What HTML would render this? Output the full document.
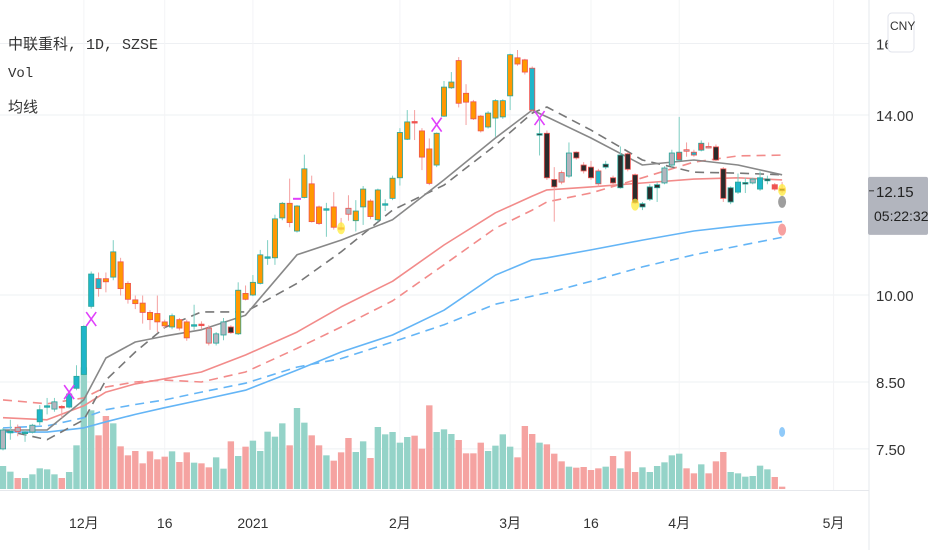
<!DOCTYPE html>
<html><head><meta charset="utf-8">
<style>
html,body{margin:0;padding:0;background:#fff;}
#wrap{position:relative;width:932px;height:550px;overflow:hidden;font-family:"Liberation Sans","Noto Sans CJK SC",sans-serif;}
svg{position:absolute;left:0;top:0;}
.lg{position:absolute;left:8px;font-size:15px;color:#333;font-family:"Liberation Mono","Noto Sans CJK SC",monospace;}
</style></head><body>
<div id="wrap">
<svg id="chart" width="932" height="550"></svg>
<div class="lg" style="top:33px">中联重科, 1D, SZSE</div>
<div class="lg" style="top:66px;font-size:14px">Vol</div>
<div class="lg" style="top:96px">均线</div>
</div>
<script>
const opens=[7.50,7.74,7.81,7.73,7.74,7.89,8.12,8.08,8.12,8.11,8.40,8.62,9.79,10.31,10.31,10.34,10.64,10.22,9.91,9.85,9.68,9.66,9.51,9.42,9.55,9.51,9.45,9.47,9.40,9.14,9.28,9.42,9.30,10.03,10.00,10.22,10.73,10.72,11.55,11.87,11.27,12.00,12.31,11.79,11.74,11.79,11.34,11.76,11.49,11.79,11.92,11.51,11.85,11.98,12.45,13.38,13.83,13.59,13.14,12.75,13.97,14.73,15.50,14.58,14.35,13.97,13.69,13.92,13.95,14.51,15.58,15.52,15.28,13.50,13.53,12.41,12.57,12.49,13.06,12.75,12.70,12.61,12.70,12.45,12.22,13.02,12.52,11.79,11.96,12.22,12.33,12.75,12.87,13.12,13.06,13.11,13.20,13.19,12.66,11.90,12.12,12.33,12.33,12.19,12.38,12.29,12.20];
const highs=[7.80,7.92,7.85,7.77,7.86,8.14,8.25,8.25,8.14,8.35,8.77,9.45,10.45,10.43,10.43,11.08,10.72,10.26,9.99,9.99,9.72,9.99,9.55,9.66,9.58,9.55,9.82,9.52,9.45,9.33,9.58,9.45,10.24,10.18,10.38,10.88,11.08,11.62,11.90,12.43,11.83,13.00,12.50,11.82,11.88,12.12,11.55,12.05,11.94,12.26,11.96,12.20,11.96,12.50,13.66,14.13,14.13,13.66,13.40,13.55,14.92,15.17,15.60,14.83,14.40,14.00,14.10,14.42,14.42,15.70,15.81,15.55,15.33,13.87,13.60,12.70,12.62,13.30,13.08,12.82,12.85,12.66,12.85,12.50,13.20,13.06,12.55,11.90,12.30,12.35,12.72,13.12,13.95,13.30,13.12,13.35,13.30,13.25,12.70,12.25,12.55,12.45,12.45,12.60,12.50,12.33,12.35];
const lows=[7.48,7.63,7.68,7.60,7.72,7.84,8.00,8.04,7.95,8.09,8.37,8.60,9.75,9.97,10.05,10.28,9.99,9.84,9.74,9.48,9.37,9.33,9.40,9.38,9.36,9.18,9.37,9.38,9.10,9.10,9.19,9.30,9.28,9.90,9.98,10.20,10.58,10.58,11.50,11.35,11.24,11.98,11.45,11.40,11.15,11.30,11.28,11.49,11.26,11.40,11.52,11.47,11.70,11.94,12.27,13.36,13.36,12.63,12.28,12.70,13.95,14.70,14.20,13.74,13.87,13.55,13.65,13.44,13.90,14.13,15.35,15.10,14.10,12.98,12.40,11.47,12.30,12.45,12.88,12.55,12.40,12.25,12.65,12.28,12.20,12.60,11.85,11.72,11.92,11.90,12.30,12.70,12.85,12.95,12.95,13.08,13.15,12.85,11.90,11.85,12.08,12.10,12.30,12.15,12.30,12.15,12.10];
const closes=[7.77,7.75,7.75,7.74,7.84,8.07,8.13,8.19,8.11,8.31,8.59,9.43,10.40,10.12,10.25,10.84,10.12,9.92,9.84,9.68,9.55,9.51,9.44,9.62,9.40,9.23,9.46,9.45,9.14,9.30,9.51,9.32,10.09,9.92,10.24,10.78,10.74,11.53,11.87,11.45,11.81,12.66,11.47,11.43,11.75,11.35,11.32,11.63,11.70,12.19,11.58,12.17,11.86,12.44,13.55,13.82,13.81,12.94,12.32,13.53,14.75,14.89,14.31,14.34,13.90,13.59,14.05,14.38,14.38,15.67,15.40,15.17,14.13,13.52,12.45,12.24,12.35,13.04,12.92,12.61,12.45,12.31,12.77,12.33,12.99,12.65,11.88,11.86,12.24,12.29,12.68,13.04,13.06,13.10,12.99,13.28,13.18,12.87,11.98,12.22,12.35,12.34,12.42,12.45,12.42,12.19,12.15];
const bodyTags="GTGTGTTGRTTTTTOOOOOOOOOOOOTRGGGKOOOOTOOOOOOOTORGOOOOTOOOROOOOOOOOOOOOOOOTKKKGGKKKTKKKKKKKKGGRGTRGKKKTKGTKR";
const volumes=[69,52,33,33,44,62,59,44,33,51,131,365,236,161,219,197,128,101,114,77,113,89,97,113,81,110,79,77,65,95,61,143,99,127,145,114,172,157,197,131,243,199,161,131,101,85,110,153,111,143,93,186,164,171,139,156,160,121,251,171,179,165,147,107,107,139,114,130,164,127,95,189,165,139,134,106,83,67,64,66,57,62,67,99,62,113,51,65,51,69,80,101,106,62,47,74,47,83,111,51,47,37,39,70,59,36,7];
const maIdx=[0,6,11,14,18,22,27,33,40,46,53,60,67,72,74,80,87,94,100,106];
const maGreySolid=[7.77,7.77,8.22,8.89,9.16,9.26,9.37,9.63,10.78,11.08,11.51,12.40,13.41,14.13,13.95,13.41,12.75,12.87,12.75,12.52];
const maGreyDash=[7.77,7.63,7.92,8.53,8.99,9.41,9.69,9.69,10.22,10.84,11.72,12.28,13.23,14.05,14.21,13.61,12.87,12.58,12.56,12.52];
const maRedSolid=[7.95,7.92,8.13,8.34,8.47,8.55,8.66,8.94,9.33,9.78,10.26,10.98,11.66,12.03,12.17,12.24,12.33,12.42,12.45,12.40];
const maRedDash=[8.22,8.16,8.25,8.42,8.50,8.53,8.50,8.66,9.05,9.42,9.89,10.58,11.33,11.72,11.90,12.10,12.45,12.82,12.97,12.99];
const maBlueSolid=[7.74,7.74,7.80,7.89,8.00,8.10,8.22,8.37,8.69,8.99,9.28,9.72,10.38,10.68,10.72,10.88,11.08,11.27,11.38,11.47];
const maBlueDash=[7.80,7.83,7.95,8.07,8.15,8.22,8.34,8.48,8.74,8.88,9.16,9.46,9.83,9.98,10.04,10.26,10.54,10.78,10.96,11.14];
const crossIdx=[9,12,59,73];
const crossPrice=[8.34,9.56,13.75,13.92];
const dashIdx=[40];
const dashPrice=[11.97];
const dotIdx=[46,86,106];
const dotPrice=[11.33,11.84,12.17];
const priceTicks=[16,14,10,8.5,7.5];
const priceTickLabels=["16","14.00","10.00","8.50","7.50"];
const dateIdx=[11,22,34,54,69,80,92,113];
const dateLabels=["12月","16","2021","2月","3月","16","4月","5月"];
const lastPrice=12.15;

const NS="http://www.w3.org/2000/svg";
const svg=document.getElementById('chart');
function xOf(i){return 3+7.35*i;}
function yOf(p){return 115-535*Math.log(p/14);}
function yVol(v){return 489-v/3;}
function mk(tag,attrs,parent){const e=document.createElementNS(NS,tag);for(const k in attrs)e.setAttribute(k,attrs[k]);(parent||svg).appendChild(e);return e;}

const grid=mk('g',{});


priceTicks.forEach(p=>{const l=mk('line',{x1:0,x2:869,y1:yOf(p),y2:yOf(p),stroke:'#eef0f3','stroke-width':1},grid);

});
dateIdx.forEach(i=>{const l=mk('line',{x1:xOf(i),x2:xOf(i),y1:0,y2:490,stroke:'#f3f4f6','stroke-width':1},grid);

});

const vg=mk('g',{});


volumes.forEach((v,i)=>{const up=closes[i]>=opens[i];
const r=mk('rect',{x:xOf(i)-3.2,y:yVol(v),width:6.4,height:489-yVol(v),fill:up?'#94d3c8':'#f5a3a1'},vg);

});

function maLine(vals,color,dash,name){const pts=maIdx.map((i,k)=>xOf(i).toFixed(1)+','+yOf(vals[k]).toFixed(1)).join(' ');
const l=mk('polyline',{points:pts,fill:'none',stroke:color,'stroke-width':1.6,'stroke-dasharray':dash||'none','stroke-linejoin':'round'});

}
maLine(maBlueDash,'#64b5f6','9,6','ma-blue-dashed');
maLine(maBlueSolid,'#64b5f6','','ma-blue-solid');
maLine(maRedDash,'#f28b8a','9,6','ma-red-dashed');
maLine(maRedSolid,'#f28b8a','','ma-red-solid');
maLine(maGreyDash,'#777','9,6','ma-grey-dashed');
maLine(maGreySolid,'#888','','ma-grey-solid');

const fills={O:'#ff9800',T:'#1fb5c9',G:'#b2b5be',K:'#2b2b2b',R:'#ef5350'};
const cg=mk('g',{});


opens.forEach((o,i)=>{const c=closes[i],up=c>=o,x=xOf(i);const bc=up?'#26a69a':'#ef5350';
const w=mk('line',{x1:x,x2:x,y1:yOf(highs[i]),y2:yOf(lows[i]),stroke:up?'#7fcfc3':'#f4a0a0','stroke-width':1},cg);


const top=yOf(Math.max(o,c)),bot=yOf(Math.min(o,c));
const b=mk('rect',{x:x-2.6,y:top,width:5.2,height:Math.max(1.5,bot-top),fill:fills[bodyTags[i]],stroke:bc,'stroke-width':0.8},cg);

});

crossIdx.forEach((i,k)=>{const x=xOf(i),y=yOf(crossPrice[k]);
const g=mk('path',{d:`M${x-5},${y-7}L${x+5},${y+7}M${x+5},${y-7}L${x-5},${y+7}`,stroke:'#e040fb','stroke-width':1.6,fill:'none'});

});
dashIdx.forEach((i,k)=>{const y=yOf(dashPrice[k]);
const l=mk('line',{x1:xOf(i)-4,x2:xOf(i)+4,y1:y,y2:y,stroke:'#e040fb','stroke-width':2});

});
dotIdx.forEach((i,k)=>{const c=mk('ellipse',{cx:xOf(i),cy:yOf(dotPrice[k]),rx:4,ry:6,fill:'#ffeb3b',opacity:0.75});

});
[[maGreySolid[19]*0.965,'#9e9e9e'],[maBlueSolid[19],'#f7a1a0']].forEach(d=>{const c=mk('ellipse',{cx:xOf(106),cy:yOf(d[0])+8,rx:4,ry:6,fill:d[1]});

});
{const c=mk('ellipse',{cx:xOf(106),cy:432,rx:3,ry:5,fill:'#90caf9'});

}

const ax=mk('g',{});


mk('line',{x1:869,x2:869,y1:0,y2:550,stroke:'#e6e8ec'},ax);
mk('line',{x1:0,x2:869,y1:490.5,y2:490.5,stroke:'#e6e8ec'},ax);
priceTicks.forEach((p,k)=>{const y=yOf(p);
const t=mk('text',{x:876,y:y+6,'font-size':15,fill:'#333','font-family':'Liberation Sans, sans-serif'},ax);t.textContent=priceTickLabels[k];

});
const lp=yOf(lastPrice);
mk('rect',{x:868,y:lp-14,width:60,height:58,rx:2,fill:'#b2b5be'},ax);
mk('line',{x1:869,x2:874,y1:lp,y2:lp,stroke:'#333'},ax);
{const t=mk('text',{x:876,y:lp+6,'font-size':15,fill:'#222','font-family':'Liberation Sans, sans-serif'},ax);t.textContent=lastPrice.toFixed(2);

}
{const t=mk('text',{x:874,y:lp+30,'font-size':14,fill:'#222','font-family':'Liberation Sans, sans-serif'},ax);t.textContent='05:22:32';

}
{const r=mk('rect',{x:888,y:13,width:26,height:39,rx:4,fill:'#fff',stroke:'#e0e3eb'});


const t=mk('text',{x:890,y:30,'font-size':12,fill:'#333','font-family':'Liberation Sans, sans-serif'});t.textContent='CNY';

}
const tx=mk('g',{});


dateIdx.forEach((i,k)=>{const t=mk('text',{x:xOf(i),y:528,'text-anchor':'middle','font-size':14,fill:'#333','font-family':'Liberation Sans, Noto Sans CJK SC, sans-serif'},tx);t.textContent=dateLabels[k];

});
</script>
</body></html>
